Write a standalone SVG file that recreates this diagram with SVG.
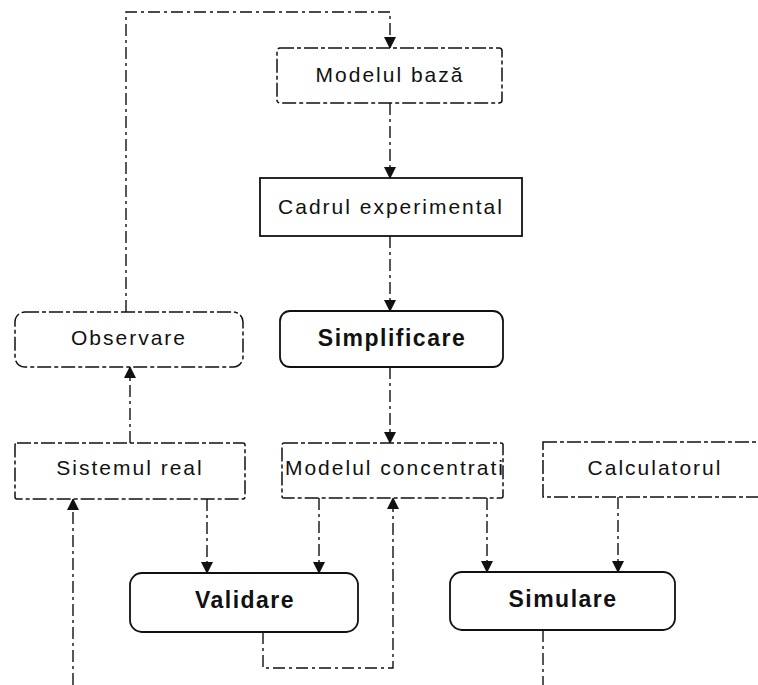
<svg xmlns="http://www.w3.org/2000/svg" width="758" height="685" viewBox="0 0 758 685">
<defs>
<style>
.bx{fill:#fff;stroke:#111;stroke-width:1.5}
.dsh{stroke-dasharray:14 3 4 3}
.sol{stroke-width:1.8}
.cn{fill:none;stroke:#111;stroke-width:1.4;stroke-dasharray:12 4 3 4}
.t{font-family:"Liberation Sans",Arial,sans-serif;font-size:21px;letter-spacing:2px;fill:#111;text-anchor:middle}
.b{font-family:"Liberation Sans",Arial,sans-serif;font-size:23px;font-weight:bold;letter-spacing:1.5px;fill:#111;text-anchor:middle}
</style>
<marker id="ah" markerUnits="userSpaceOnUse" markerWidth="12" markerHeight="14" refX="11" refY="6" orient="auto" viewBox="0 0 12 12">
<path d="M0,0 L12,6 L0,12 Z" fill="#111"/>
</marker>
</defs>
<rect width="758" height="685" fill="#fff"/>
<g id="connectors">
<path class="cn" d="M126,312 V12 H390 V48" marker-end="url(#ah)"/>
<path class="cn" d="M390,103 V178" marker-end="url(#ah)"/>
<path class="cn" d="M390,236 V311" marker-end="url(#ah)"/>
<path class="cn" d="M390,367 V443" marker-end="url(#ah)"/>
<path class="cn" d="M130,443 V367" marker-end="url(#ah)"/>
<path class="cn" d="M73,685 V499" marker-end="url(#ah)"/>
<path class="cn" d="M207,499 V573" marker-end="url(#ah)"/>
<path class="cn" d="M319,498 V573" marker-end="url(#ah)"/>
<path class="cn" d="M263,632 V668 H393 V498" marker-end="url(#ah)"/>
<path class="cn" d="M487,498 V572" marker-end="url(#ah)"/>
<path class="cn" d="M618,497 V572" marker-end="url(#ah)"/>
<path class="cn" d="M543,630 V685"/>
</g>
<g id="modelul-baza"><rect class="bx dsh" x="277" y="48" width="225" height="55" rx="3"/><text class="t" x="390" y="82">Modelul bază</text></g>
<g id="cadrul"><rect class="bx sol" x="260" y="178" width="262" height="58"/><text class="t" x="391" y="214">Cadrul experimental</text></g>
<g id="observare"><rect class="bx dsh" x="15" y="312" width="228" height="55" rx="10"/><text class="t" x="129" y="345">Observare</text></g>
<g id="simplificare"><rect class="bx sol" x="280" y="311" width="223" height="56" rx="10"/><text class="b" x="392" y="346">Simplificare</text></g>
<g id="sistemul-real"><rect class="bx dsh" x="15" y="443" width="230" height="56" rx="2"/><text class="t" x="130" y="475">Sistemul real</text></g>
<g id="modelul-concentrat"><rect class="bx dsh" x="282" y="443" width="221" height="55" rx="2"/><text class="t" x="395" y="475">Modelul concentrati</text></g>
<g id="calculatorul"><rect class="bx dsh" x="543" y="442" width="225" height="55"/><text class="t" x="655" y="475">Calculatorul</text></g>
<g id="validare"><rect class="bx sol" x="130" y="573" width="228" height="59" rx="12"/><text class="b" x="245" y="608">Validare</text></g>
<g id="simulare"><rect class="bx sol" x="450" y="572" width="225" height="58" rx="12"/><text class="b" x="563" y="607">Simulare</text></g>
</svg>
